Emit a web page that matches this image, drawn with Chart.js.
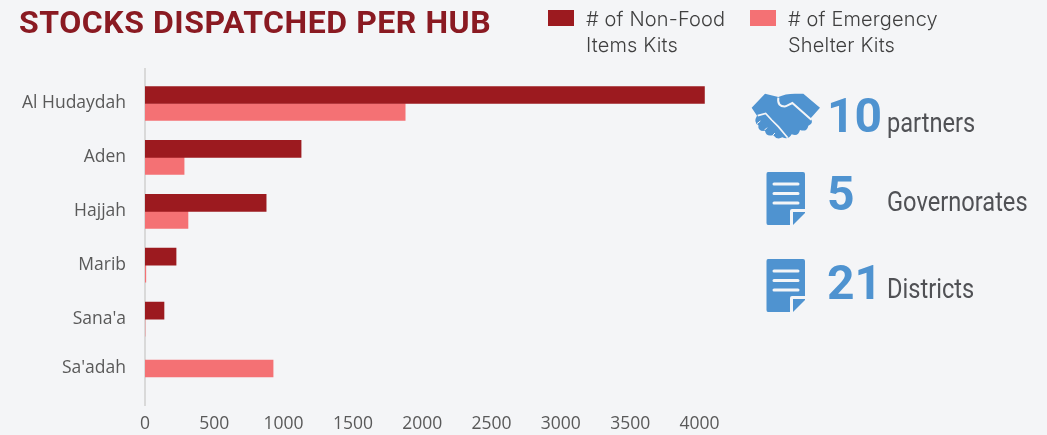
<!DOCTYPE html>
<html>
<head>
<meta charset="utf-8">
<script src="https://cdn.jsdelivr.net/npm/chart.js@4/dist/chart.umd.min.js"></script>
<style>
  html, body { margin: 0; padding: 0; background: #f4f5f7; }
  #wrap { position: relative; width: 1047px; height: 435px; overflow: hidden; }
  #myChart { position: absolute; left: 0; top: 0; }
  .abs { position: absolute; white-space: nowrap; }
  #title { left: 19px; top: 3px; font: 700 32px/38px Roboto, sans-serif; letter-spacing: .55px; color: #8a1a22; }
  .legend-box { width: 26px; height: 16px; top: 10px; }
  .legend-text { top: 6px; font: 300 20px/26px Inter, sans-serif; letter-spacing: .15px; color: #404040; }
  .num { font: 700 48px/50px Roboto, sans-serif; color: #4f93d0; }
  .lab { font: 400 27px/32px Roboto, sans-serif; color: #505155; transform: scaleX(.875); transform-origin: left top; }
  svg.abs { fill: #4f93d0; }
</style>
</head>
<body>
<div id="wrap">
  <canvas id="myChart" width="1047" height="435"></canvas>
  <div id="title" class="abs">STOCKS DISPATCHED PER HUB</div>

  <div class="abs legend-box" style="left:548px;background:#9c1a1f"></div>
  <div class="abs legend-text" style="left:586px"># of Non-Food<br>Items Kits</div>
  <div class="abs legend-box" style="left:750px;background:#f47174"></div>
  <div class="abs legend-text" style="left:788px"># of Emergency<br>Shelter Kits</div>

  <svg class="abs" style="left:745px;top:85px" width="85" height="65" viewBox="0 0 255 195">
    <path d="M20 68 L60 26 L100 36 Q120 26 150 26 L175 26 L225 68 L197 100 Q207 116 190 122 Q186 142 165 135 Q160 156 140 148 Q130 166 112 157 Q96 166 84 150 Q64 156 60 138 Q38 140 40 120 Q24 112 36 92 Z"/>
    <path d="M100 38 Q96 66 122 64 L142 54 L199 104" fill="none" stroke="#f4f5f7" stroke-width="6"/>
    <path d="M38 92 L62 85 L80 105 L100 125 L128 158" fill="none" stroke="#f4f5f7" stroke-width="5"/>
    <path d="M36 116 L46 108 M58 136 L66 128 M84 150 L90 144" fill="none" stroke="#f4f5f7" stroke-width="3"/>
  </svg>
  <svg class="abs" style="left:766px;top:171px" width="40" height="55" viewBox="0 0 40 55">
    <use href="#doc"/>
  </svg>
  <svg class="abs" style="left:766px;top:258px" width="40" height="55" viewBox="0 0 40 55">
    <use href="#doc"/>
  </svg>
  <svg width="0" height="0" style="position:absolute">
    <defs>
      <g id="doc">
        <path d="M2 1 H37 Q39 1 39 3 V38 H26 Q24 38 24 40 V54 H2 Q0.5 54 0.5 52 V3 Q0.5 1 2 1 Z"/>
        <path d="M39 41 V42 L27 54 V41 Z"/>
        <path d="M8 13 H32 M8 22.5 H32 M8 32 H32" stroke="#f4f5f7" stroke-width="3" stroke-linecap="round" fill="none"/>
      </g>
    </defs>
  </svg>

  <div class="abs num" style="left:827px;top:91px">10</div>
  <div class="abs num" style="left:827px;top:169px">5</div>
  <div class="abs num" style="left:827px;top:258px">21</div>
  <div class="abs lab" style="left:887px;top:107px">partners</div>
  <div class="abs lab" style="left:887px;top:186px">Governorates</div>
  <div class="abs lab" style="left:887px;top:273px">Districts</div>
</div>

<script>
const categories = ['Al Hudaydah', 'Aden', 'Hajjah', 'Marib', "Sana'a", "Sa'adah"];
const nonFoodKits = [4036, 1126, 874, 224, 137, null];
const shelterKits = [1877, 282, 310, 6, 0, 924];
const xTicks = [0, 500, 1000, 1500, 2000, 2500, 3000, 3500, 4000];

// rows in the original are not evenly spread: a bit of spare room top and bottom, last row pulled up
class HubScale extends Chart.CategoryScale {
  static id = 'hubCategory';
  static defaults = Chart.CategoryScale.defaults;
  configure() {
    super.configure();
    this._startValue = -0.64;
    this._valueRange = 6.243;
  }
  getPixelForValue(value, index) {
    const shift = value === this.getLabels().length - 1 ? -4.5 : 0;
    return super.getPixelForValue(value, index) + shift;
  }
}
Chart.register(HubScale);

new Chart(document.getElementById('myChart'), {
  type: 'bar',
  data: {
    labels: categories,
    datasets: [
      { label: '# of Non-Food Items Kits', data: nonFoodKits, backgroundColor: '#9c1a1f', barThickness: 17, skipNull: true },
      { label: '# of Emergency Shelter Kits', data: shelterKits, backgroundColor: '#f47174', barThickness: 17, skipNull: true }
    ]
  },
  options: {
    indexAxis: 'y',
    responsive: false,
    animation: false,
    layout: { padding: { top: 69, right: 342, left: 0, bottom: 0 } },
    plugins: { legend: { display: false }, title: { display: false }, tooltip: { enabled: false } },
    scales: {
      x: {
        min: 0,
        max: 4040,
        afterBuildTicks: scale => { scale.ticks = xTicks.map(v => ({ value: v })); },
        grid: { display: false },
        border: { display: false },
        ticks: {
          color: '#595959',
          padding: 0,
          maxRotation: 0,
          autoSkip: false,
          font: { family: 'Open Sans', size: 17.5 },
          callback: v => String(v)
        },
        afterFit: scale => { scale.height = 27; }
      },
      y: {
        type: 'hubCategory',
        grid: { display: false, drawTicks: false },
        border: { color: '#d9d9d9', width: 2 },
        ticks: { color: '#595959', padding: 19, font: { family: 'Open Sans', size: 17.5 } },
        afterFit: scale => { scale.width = 145; }
      }
    }
  }
});
</script>
</body>
</html>
